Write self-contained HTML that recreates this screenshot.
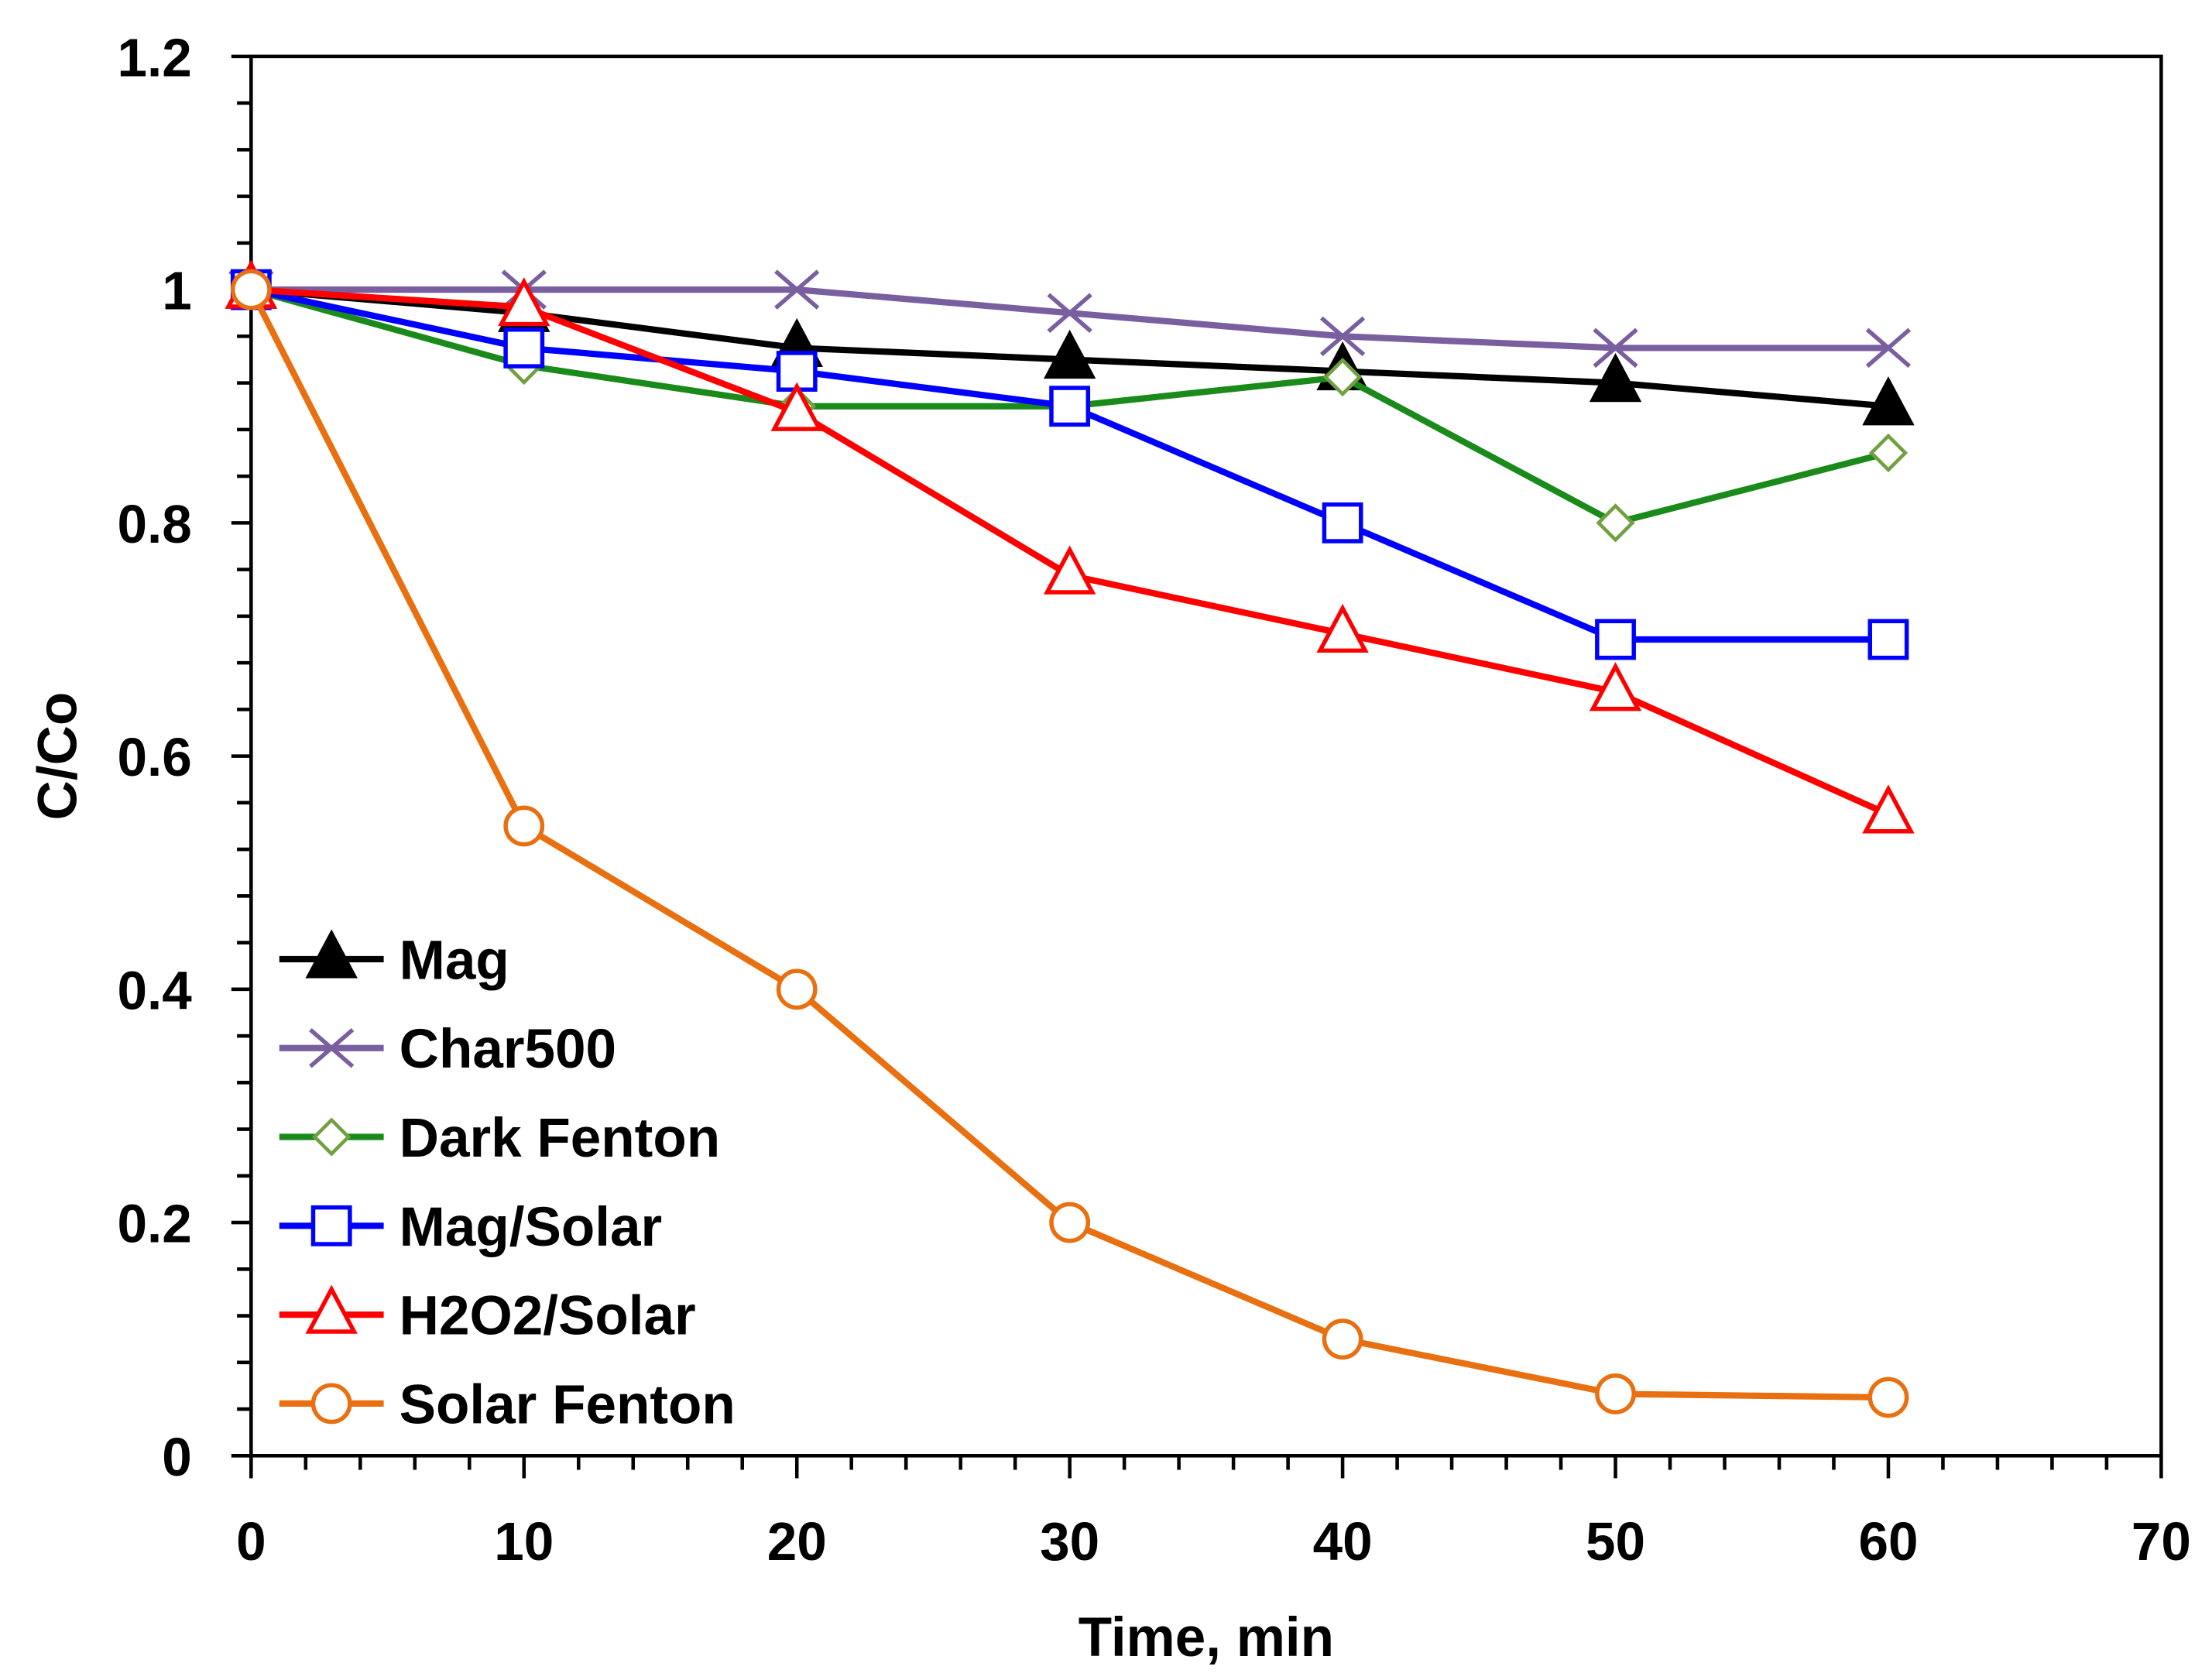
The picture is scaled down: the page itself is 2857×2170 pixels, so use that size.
<!DOCTYPE html>
<html><head><meta charset="utf-8"><style>
html,body{margin:0;padding:0;background:#fff}
svg{display:block}
text{font-family:"Liberation Sans",sans-serif;font-weight:bold;fill:#000}
</style></head><body>
<svg id="chart" xmlns="http://www.w3.org/2000/svg" width="2857" height="2170" viewBox="0 0 1568 1191" preserveAspectRatio="none">
<g id="grid"></g>
<g id="series"></g>
<g id="legend"></g>
</svg>
<script>
const times=[0,10,20,30,40,50,60];
const magVals=[1,0.98,0.95,0.94,0.93,0.92,0.90];
const charVals=[1,1,1,0.98,0.96,0.95,0.95];
const darkVals=[1,0.935,0.90,0.90,0.925,0.80,0.86];
const magSolarVals=[1,0.95,0.93,0.90,0.80,0.70,0.70];
const h2o2Vals=[1,0.985,0.895,0.755,0.705,0.655,0.55];
const solarFentonVals=[1,0.54,0.40,0.20,0.10,0.053,0.05];
const seriesNames=["Mag","Char500","Dark Fenton","Mag/Solar","H2O2/Solar","Solar Fenton"];
const xTickLabels=["0","10","20","30","40","50","60","70"];
const yTickLabels=["0","0.2","0.4","0.6","0.8","1","1.2"];

const NS="http://www.w3.org/2000/svg";
const L=178,R=1532,T=40,B=1032;
const xs=v=>L+(v/70)*(R-L);
const ys=v=>B-(v/1.2)*(B-T);
function mk(tag,attrs,parent){const e=document.createElementNS(NS,tag);for(const k in attrs)e.setAttribute(k,attrs[k]);parent.appendChild(e);return e;}
const grid=document.getElementById('grid');
const sl=document.getElementById('series');
const lg=document.getElementById('legend');

const frame=mk('rect',{x:L,y:T,width:R-L,height:B-T,fill:'none',stroke:'#000','stroke-width':2.5},grid);


for(let i=0;i<=30;i++){const v=i*0.04;const y=ys(v);const major=i%5===0;
 const t=mk('line',{x1:L-(major?14:10),x2:L,y1:y,y2:y,stroke:'#000','stroke-width':2.5},grid);
 
 }
for(let i=0;i<=35;i++){const v=i*2;const x=xs(v);const major=i%5===0;
 const t=mk('line',{x1:x,x2:x,y1:B,y2:B+(major?16:10),stroke:'#000','stroke-width':2.5},grid);
 
 }
yTickLabels.forEach((s,i)=>{const t=mk('text',{x:136,y:ys(i*0.2)+14,'text-anchor':'end','font-size':38},grid);t.textContent=s;
 
 });
xTickLabels.forEach((s,i)=>{const t=mk('text',{x:xs(i*10),y:1106,'text-anchor':'middle','font-size':38},grid);t.textContent=s;
 
 });
const xt=mk('text',{x:855,y:1174,'text-anchor':'middle','font-size':39},grid);xt.textContent='Time, min';


const yt=mk('text',{x:0,y:0,'text-anchor':'middle','font-size':39,transform:'translate(54,536) rotate(-90)'},grid);yt.textContent='C/Co';



function marker(type,x,y,color,parent){
 let e;
 if(type==='tri'){e=mk('polygon',{points:`${x},${y-18} ${x-16},${y+12} ${x+16},${y+12}`,fill:color==='#000'?'#000':'#fff',stroke:color,'stroke-width':3},parent);}
 else if(type==='x'){e=mk('path',{d:`M${x-15},${y-13}L${x+15},${y+13}M${x-15},${y+13}L${x+15},${y-13}`,stroke:color,'stroke-width':3,fill:'none'},parent);}
 else if(type==='dia'){e=mk('polygon',{points:`${x},${y-12} ${x+12},${y} ${x},${y+12} ${x-12},${y}`,fill:'#fff',stroke:'#70a040','stroke-width':2.5},parent);}
 else if(type==='sq'){e=mk('rect',{x:x-13,y:y-13,width:26,height:26,fill:'#fff',stroke:color,'stroke-width':3},parent);}
 else {e=mk('circle',{cx:x,cy:y,r:13,fill:'#fff',stroke:color,'stroke-width':3},parent);}
 return e;
}
const defs=[
 {vals:magVals,color:'#000',m:'tri',name:'mag'},
 {vals:charVals,color:'#7a5fa0',m:'x',name:'char500'},
 {vals:darkVals,color:'#1a8a1a',m:'dia',name:'dark-fenton'},
 {vals:magSolarVals,color:'#0000ff',m:'sq',name:'mag-solar'},
 {vals:h2o2Vals,color:'#ff0000',m:'tri',name:'h2o2-solar'},
 {vals:solarFentonVals,color:'#e87010',m:'circ',name:'solar-fenton'}];
defs.forEach((d,si)=>{
 const g=mk('g',{},sl);
 
 
 const pts=d.vals.map((v,i)=>xs(times[i])+','+ys(v)).join(' ');
 const pl=mk('polyline',{points:pts,fill:'none',stroke:d.color,'stroke-width':4.5},g);
 
 
 d.vals.forEach((v,i)=>{const m=marker(d.m,xs(times[i]),ys(v),d.color,g);
  
  });
 const ly=680+si*63;
 const lgEntry=mk('g',{},lg);
 
 
 mk('line',{x1:198,x2:272,y1:ly,y2:ly,stroke:d.color,'stroke-width':4.5},lgEntry);
 marker(d.m,235,ly,d.color,lgEntry);
 const tx=mk('text',{x:283,y:ly+14,'font-size':39},lgEntry);tx.textContent=seriesNames[si];
});
</script>
</body></html>
